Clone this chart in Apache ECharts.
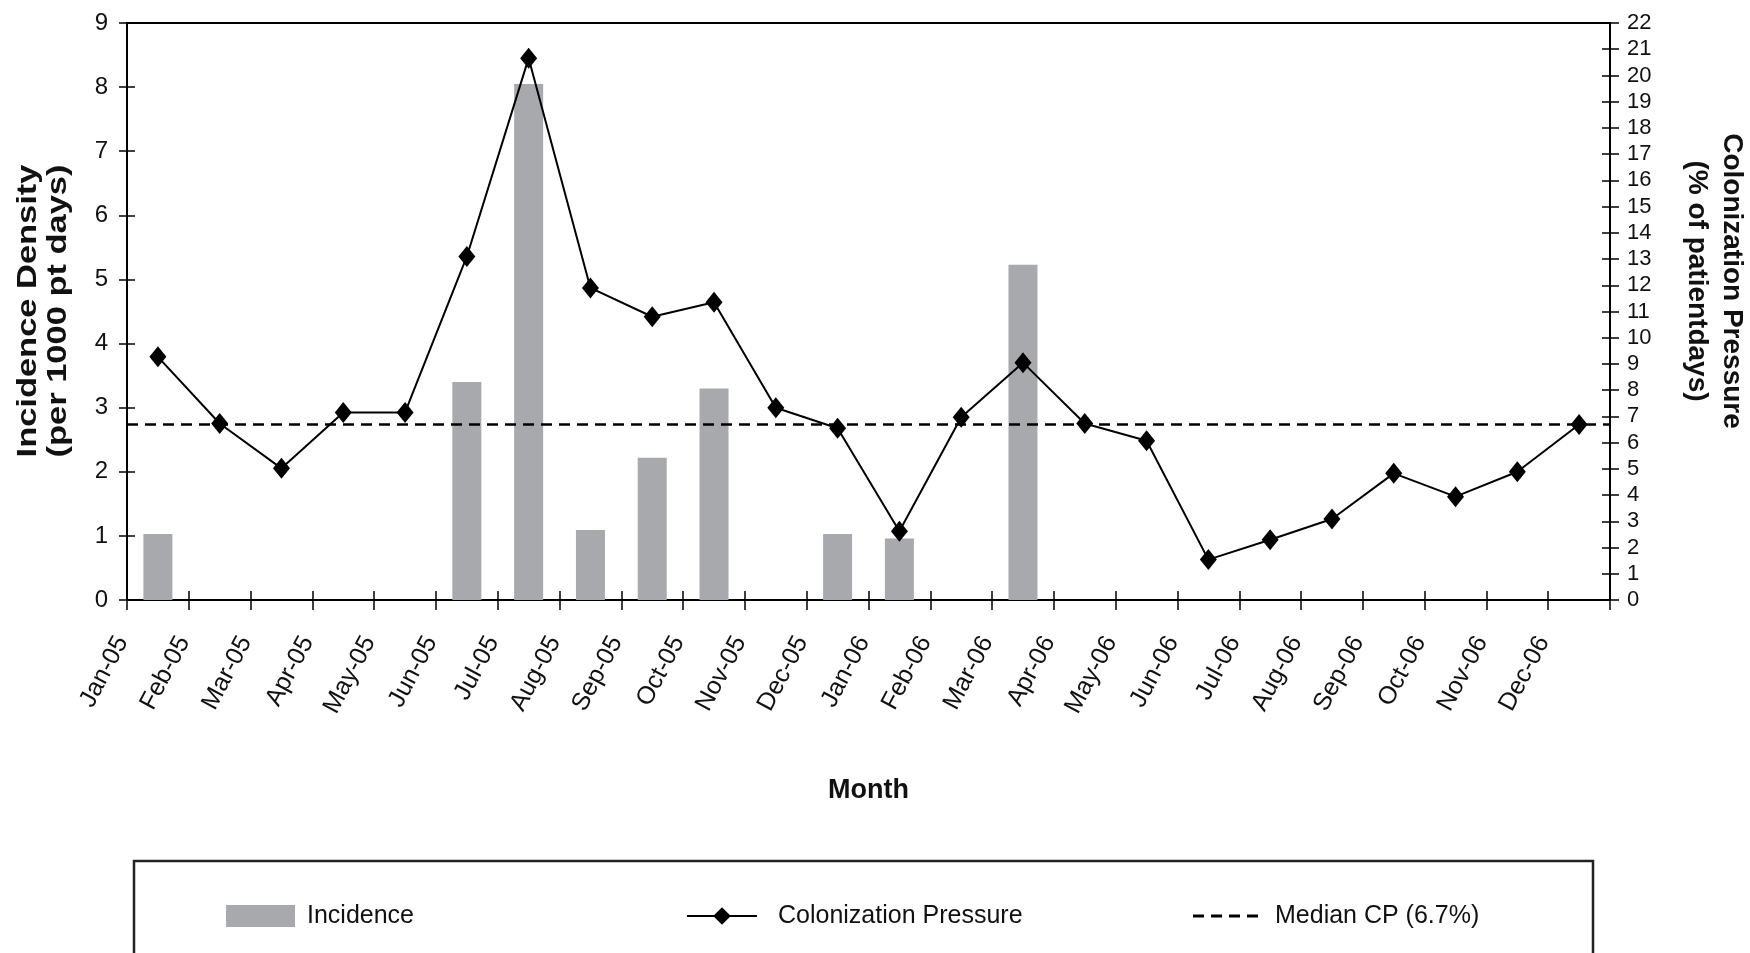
<!DOCTYPE html>
<html>
<head>
<meta charset="utf-8">
<script src="https://cdn.jsdelivr.net/npm/echarts@6/dist/echarts.min.js"></script>
<style>
  html, body { margin: 0; padding: 0; background: #ffffff; }
  #chart { width: 1750px; height: 953px; }
</style>
</head>
<body>
<div id="chart"></div>
<script>
// Monthly categories, Jan 2005 – Dec 2006
const months = [
  'Jan-05', 'Feb-05', 'Mar-05', 'Apr-05', 'May-05', 'Jun-05',
  'Jul-05', 'Aug-05', 'Sep-05', 'Oct-05', 'Nov-05', 'Dec-05',
  'Jan-06', 'Feb-06', 'Mar-06', 'Apr-06', 'May-06', 'Jun-06',
  'Jul-06', 'Aug-06', 'Sep-06', 'Oct-06', 'Nov-06', 'Dec-06'
];

// Incidence density (per 1000 patient days), left axis
const incidence = [
  1.03, 0, 0, 0, 0, 3.40,
  8.05, 1.09, 2.22, 3.30, 0, 1.03,
  0.96, 0, 5.23, 0, 0, 0,
  0, 0, 0, 0, 0, 0
];

// Colonization pressure (% of patient days), right axis
const colonizationPressure = [
  9.27, 6.73, 5.02, 7.15, 7.15, 13.10,
  20.66, 11.90, 10.80, 11.35, 7.33, 6.55,
  2.62, 6.97, 9.05, 6.73, 6.07, 1.54,
  2.30, 3.09, 4.83, 3.94, 4.89, 6.69
];

// Median colonization pressure (%)
const medianCP = 6.7;

// Axis ranges
const leftAxisMax = 9;
const rightAxisMax = 22;

// Axis titles
const leftTitle = ['Incidence Density', '(per 1000 pt days)'];
const rightTitle = ['Colonization Pressure', '(% of patientdays)'];

const FONT = "'Liberation Sans', Arial, Helvetica, sans-serif";
const INK = '#111111';
const BAR_GREY = '#a8a9ad';

const chart = echarts.init(document.getElementById('chart'), null, { renderer: 'canvas' });

const tickStyle = { color: '#000', width: 1.5 };

function titleText(text, x, y, rotation, scaleX) {
  return {
    type: 'text',
    silent: true,
    x: x, y: y,
    rotation: rotation,
    scaleX: scaleX,
    style: {
      text: text,
      fill: INK,
      font: 'bold 28px ' + FONT,
      align: 'center', verticalAlign: 'middle',
      textAlign: 'center', textVerticalAlign: 'middle'
    }
  };
}

const legendText = { color: INK, fontFamily: FONT, fontSize: 25, lineHeight: 26 };

const option = {
  backgroundColor: '#ffffff',
  animation: false,
  grid: {
    left: 127, right: 140, top: 23, bottom: 353,
    containLabel: false,
    outerBoundsMode: 'none',
    show: true,
    borderColor: '#000',
    borderWidth: 2,
    backgroundColor: 'transparent'
  },
  xAxis: [
    {
      type: 'category',
      data: months,
      position: 'bottom',
      boundaryGap: true,
      axisLine: { show: true, lineStyle: { color: '#000', width: 2 } },
      axisTick: { show: true, inside: false, length: 10, lineStyle: tickStyle },
      axisLabel: {
        show: true,
        interval: 0,
        rotate: 62,
        margin: -29,
        padding: [0, 76, 0, 0],
        color: INK,
        fontFamily: FONT,
        fontSize: 25
      },
      splitLine: { show: false },
      name: 'Month',
      nameLocation: 'middle',
      nameGap: 177,
      nameTextStyle: { color: INK, fontFamily: FONT, fontWeight: 'bold', fontSize: 27 }
    },
    {
      // inner half of the crossing tick marks
      type: 'category',
      data: months,
      position: 'bottom',
      boundaryGap: true,
      axisLine: { show: false },
      axisTick: { show: true, inside: true, length: 9, lineStyle: tickStyle },
      axisLabel: { show: false },
      splitLine: { show: false }
    }
  ],
  yAxis: [
    {
      type: 'value',
      position: 'left',
      min: 0, max: leftAxisMax, interval: 1,
      axisLine: { show: true, lineStyle: { color: '#000', width: 2 } },
      axisTick: { show: true, inside: false, length: 8, lineStyle: tickStyle },
      axisLabel: { color: INK, fontFamily: FONT, fontSize: 24, margin: 19 },
      splitLine: { show: false }
    },
    {
      type: 'value',
      position: 'right',
      min: 0, max: rightAxisMax, interval: 1,
      axisLine: { show: true, lineStyle: { color: '#000', width: 2 } },
      axisTick: { show: true, inside: false, length: 9, lineStyle: tickStyle },
      axisLabel: { color: INK, fontFamily: FONT, fontSize: 22, margin: 17 },
      splitLine: { show: false }
    },
    {
      // inner half of the left crossing ticks
      type: 'value',
      position: 'left',
      min: 0, max: leftAxisMax, interval: 1,
      axisLine: { show: false },
      axisTick: { show: true, inside: true, length: 8, lineStyle: tickStyle },
      axisLabel: { show: false },
      splitLine: { show: false }
    },
    {
      // inner half of the right crossing ticks
      type: 'value',
      position: 'right',
      min: 0, max: rightAxisMax, interval: 1,
      axisLine: { show: false },
      axisTick: { show: true, inside: true, length: 8, lineStyle: tickStyle },
      axisLabel: { show: false },
      splitLine: { show: false }
    }
  ],
  legend: [
    {
      left: 221, top: 898,
      orient: 'horizontal',
      icon: 'rect',
      itemWidth: 69, itemHeight: 22,
      data: ['Incidence'],
      textStyle: Object.assign({}, legendText, { padding: [0, 0, 0, 7] })
    },
    {
      left: 681, top: 898,
      orient: 'horizontal',
      itemWidth: 70, itemHeight: 22,
      data: ['Colonization Pressure'],
      textStyle: Object.assign({}, legendText, { padding: [0, 0, 0, 16] })
    },
    {
      left: 1188, top: 898,
      orient: 'horizontal',
      itemWidth: 65, itemHeight: 3,
      data: [{
        name: 'Median CP (6.7%)',
        icon: 'path://M0,0h11v3h-11zM18,0h11v3h-11zM36,0h11v3h-11zM54,0h11v3h-11z'
      }],
      textStyle: Object.assign({}, legendText, { padding: [0, 0, 0, 12] })
    }
  ],
  graphic: [
    {
      // legend frame (runs past the lower edge of the canvas)
      type: 'rect',
      silent: true,
      shape: { x: 134, y: 861, width: 1459, height: 140 },
      style: { fill: 'none', stroke: '#222', lineWidth: 2.5 }
    },
    titleText(leftTitle[0], 28, 311, Math.PI / 2, 1.23),
    titleText(leftTitle[1], 58, 311, Math.PI / 2, 1.23),
    titleText(rightTitle[0], 1732, 281, -Math.PI / 2, 1.0),
    titleText(rightTitle[1], 1697, 281, -Math.PI / 2, 1.0)
  ],
  series: [
    {
      name: 'Incidence',
      type: 'bar',
      xAxisIndex: 0,
      yAxisIndex: 0,
      data: incidence,
      barWidth: 29,
      itemStyle: { color: BAR_GREY },
      z: 2
    },
    {
      name: 'Colonization Pressure',
      type: 'line',
      xAxisIndex: 0,
      yAxisIndex: 1,
      data: colonizationPressure,
      symbol: 'diamond',
      symbolSize: [17, 21],
      showAllSymbol: true,
      color: '#000',
      lineStyle: { color: '#000', width: 2 },
      itemStyle: { color: '#000' },
      z: 4
    },
    {
      name: 'Median CP (6.7%)',
      type: 'line',
      xAxisIndex: 0,
      yAxisIndex: 1,
      data: [],
      color: '#000',
      itemStyle: { color: '#000' },
      lineStyle: { color: '#000', width: 2.5, type: [11, 7] },
      markLine: {
        silent: true,
        symbol: ['none', 'none'],
        label: { show: false },
        lineStyle: { color: '#000', width: 2.5, type: [11, 7] },
        data: [{ yAxis: medianCP }]
      },
      z: 3
    }
  ]
};

chart.setOption(option);
</script>
</body>
</html>
